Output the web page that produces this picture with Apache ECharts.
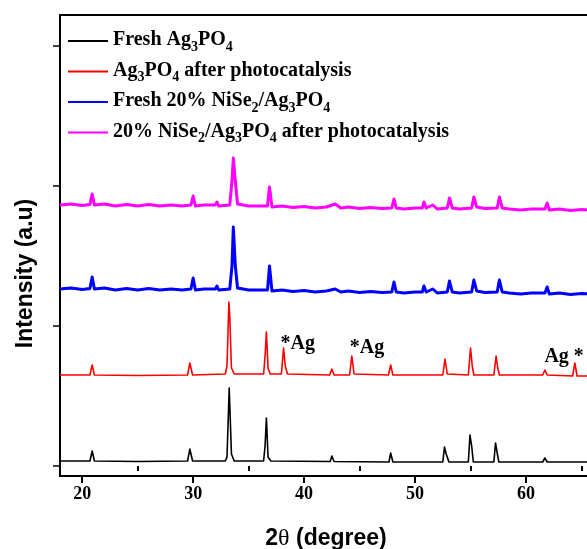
<!DOCTYPE html>
<html>
<head>
<meta charset="utf-8">
<script src="https://cdn.jsdelivr.net/npm/echarts@6/dist/echarts.min.js"></script>
<style>
  html, body { margin: 0; padding: 0; background: #fff; }
  #chart { width: 587px; height: 549px; }
</style>
</head>
<body>
<div id="chart"></div>
<script>
// ---- Data (2θ in degrees, intensity in arbitrary units; tick marks at 0,140,280,420) ----
const seriesNames = [
  'Fresh Ag3PO4',
  'Ag3PO4 after photocatalysis',
  'Fresh 20% NiSe2/Ag3PO4',
  '20% NiSe2/Ag3PO4 after photocatalysis'
];
const seriesColors = ['#000000', '#ff0000', '#0000ff', '#ff00ff'];

const xTickValues = [20, 30, 40, 50, 60, 70];
const xMinorTickValues = [25, 35, 45, 55, 65];
const yTickValues = [0, 140, 280, 420];

const freshAg3PO4 = [
  [18,5],[20.7,5],[20.9,15],[21.1,5],[25,4.5],[29.5,5],[29.7,17],[29.95,5],
  [32.9,5],[33.05,9],[33.12,33],[33.25,78],[33.32,76],[33.45,12],[33.7,5],
  [36.35,5],[36.48,20],[36.6,48],[36.75,9],[37,5],
  [42.35,4.5],[42.5,10],[42.7,4.5],[47.65,4],[47.8,13],[48.0,4],
  [52.5,4],[52.65,19],[52.8,12],[52.9,9],[53.05,4],
  [54.8,4],[54.95,31],[55.1,20],[55.25,4],
  [57.1,4],[57.25,23],[57.4,13],[57.55,4],
  [61.5,4],[61.7,8],[61.9,4],[70,4]
];

const usedAg3PO4 = [
  [18,91],[20.7,91],[20.9,101],[21.1,91],[25,90.5],[29.5,91],[29.7,103],[29.95,91],
  [32.9,92],[33.05,100],[33.12,126],[33.22,164],[33.3,150],[33.45,98],[33.7,92],
  [36.35,92],[36.48,110],[36.6,134],[36.75,98],[36.95,92],
  [37.95,92],[38.15,118],[38.3,100],[38.5,92],
  [42.3,91],[42.5,97],[42.7,91],[44.1,91],[44.3,110],[44.5,92],
  [47.6,91],[47.8,101],[48.0,91],[52.5,91],[52.7,107],[52.9,92],
  [54.8,91],[55.0,118],[55.15,100],[55.3,91],
  [57.1,91],[57.3,110],[57.45,98],[57.6,91],
  [61.5,91],[61.7,96],[61.9,91],[64.2,90],[64.4,103],[64.6,90],[70,90]
];

const freshNiSe2 = [
  [18,177],[19,178],[20,176.5],[20.7,177.5],[20.9,189],[21.1,177],[22,178],[23,176],
  [24,177.5],[25,176],[26,177.5],[27,176],[28,177],[29,176],[29.8,177],[30.0,188],
  [30.2,176],[31,177],[32.0,177],[32.15,180],[32.3,176],[33.3,177],[33.5,200],
  [33.62,239],[33.8,200],[34,178],[35,176],[36,176],[36.7,176],[36.88,200],[37.1,175],
  [38,176],[39,174.5],[40,175.5],[41,174],[42,175],[42.8,177],[43.3,174],[44,175],
  [45,173.5],[46,174.5],[47,173.5],[47.9,174],[48.1,184],[48.3,174],[49,173],[50,174],
  [50.65,174],[50.8,180],[51,174],[51.6,177],[52,173],[52.9,174],[53.1,185],[53.35,174],
  [54,173],[55.1,174],[55.3,186],[55.55,175],[56.3,173.5],[57.4,174],[57.6,186],
  [57.85,174],[58.5,173],[59.5,172],[60.5,173],[61.7,173],[61.9,179],[62.1,172],
  [63,173],[64,171.5],[65,172.5],[66,172],[70,172]
];

const usedNiSe2 = [
  [18,261],[19,262],[20,260.5],[20.7,261.5],[20.9,272],[21.1,261],[22,262],[23,260],
  [24,261.5],[25,260],[26,261.5],[27,260],[28,261],[29,260],[29.8,261],[30.0,270],
  [30.2,260],[31,261],[32.0,261],[32.15,264],[32.3,260],[33.3,261],[33.5,285],
  [33.62,308],[33.8,285],[34,262],[35,260],[36,260],[36.7,260],[36.88,279],[37.1,259],
  [38,260],[39,258.5],[40,259.5],[41,258],[42,259],[42.8,262],[43.3,258],[44,259],
  [45,257.5],[46,258.5],[47,257.5],[47.9,258],[48.1,267],[48.3,258],[49,257],[50,258],
  [50.65,258],[50.8,264],[51,258],[51.6,261],[52,257],[52.9,258],[53.1,268],[53.35,258],
  [54,257],[55.1,258],[55.3,269],[55.55,259],[56.3,257.5],[57.4,258],[57.6,269],
  [57.85,258],[58.5,257],[59.5,256],[60.5,257],[61.7,257],[61.9,263],[62.1,256],
  [63,257],[64,255.5],[65,256.5],[66,256],[70,256]
];

// Ag reflections marked on the red pattern: [2θ, peak intensity, label]
const agPeaks = [[38.15, 118, '*Ag'], [44.3, 110, '*Ag'], [64.4, 103, 'Ag *']];

// ---- Chart ----
const seriesData = [freshAg3PO4, usedAg3PO4, freshNiSe2, usedNiSe2];
const lineWidths = [1.6, 1.6, 3, 3];

function richName(name) {
  let s = '{m|' + name.replace(/([A-Za-z])(\d)/g, '$1}{s|$2}{m|') + '}';
  return s.replace(/\{m\|\}/g, '');
}

const chart = echarts.init(document.getElementById('chart'), null, { renderer: 'canvas' });

const series = seriesNames.map((n, i) => ({
  name: n,
  type: 'line',
  data: seriesData[i],
  showSymbol: false,
  symbol: 'none',
  smooth: false,
  lineStyle: { color: seriesColors[i], width: lineWidths[i], join: 'round' },
  itemStyle: { color: seriesColors[i] },
  emphasis: { disabled: true },
  z: 4 - i
}));

const labelLayouts = [
  { position: 'right', distance: 0, offset: [-3, -4] },
  { position: 'right', distance: 0, offset: [-2, -8] },
  { position: 'left', distance: 0, offset: [9, -6] }
];

series.push({
  name: 'Ag',
  type: 'scatter',
  symbolSize: 0,
  silent: true,
  itemStyle: { color: '#000', opacity: 1 },
  emphasis: { disabled: true },
  data: agPeaks.map((p, i) => ({
    value: [p[0], p[1]],
    label: Object.assign({
      show: true,
      formatter: p[2],
      fontFamily: 'Liberation Serif',
      fontWeight: 'bold',
      fontSize: 20,
      color: '#000000',
      opacity: 1,
      textBorderWidth: 0
    }, labelLayouts[i])
  })),
  z: 10
});

const option = {
  animation: false,
  backgroundColor: '#ffffff',
  grid: {
    left: 60, top: 15, width: 577, height: 461,
    outerBoundsMode: 'none',
    containLabel: false,
    show: true, borderColor: '#000', borderWidth: 2, backgroundColor: 'transparent'
  },
  legend: {
    data: seriesNames,
    orient: 'vertical',
    left: 68, top: 30,
    padding: 0,
    itemGap: 6.5,
    itemWidth: 40, itemHeight: 2,
    icon: 'rect',
    formatter: richName,
    textStyle: {
      color: '#000',
      fontFamily: 'Liberation Serif',
      fontWeight: 'bold',
      fontSize: 20,
      rich: {
        m: { fontFamily: 'Liberation Serif', fontWeight: 'bold', fontSize: 20, lineHeight: 22, verticalAlign: 'top', color: '#000' },
        s: { fontFamily: 'Liberation Serif', fontWeight: 'bold', fontSize: 14, lineHeight: 14, padding: [10, 0, 0, 0], verticalAlign: 'top', color: '#000' }
      }
    }
  },
  xAxis: [{
    type: 'value',
    min: 18, max: 70,
    name: '{a|2}{t|θ}{a| (degree)}',
    nameLocation: 'middle',
    nameGap: 51,
    nameTextStyle: {
      padding: [0, 45, 0, 0],
      rich: {
        a: { fontFamily: 'Liberation Sans', fontWeight: 'bold', fontSize: 23, color: '#000' },
        t: { fontFamily: 'Liberation Serif', fontWeight: 'normal', fontSize: 24, color: '#000' }
      }
    },
    axisLine: { show: true, onZero: false, lineStyle: { color: '#000', width: 2 } },
    axisTick: { show: true, inside: false, length: 7, customValues: xTickValues, lineStyle: { color: '#000', width: 2 } },
    axisLabel: {
      show: true, customValues: xTickValues, margin: 9,
      fontFamily: 'Liberation Serif', fontWeight: 'bold', fontSize: 18, color: '#000'
    },
    splitLine: { show: false }
  }, {
    type: 'value',
    min: 18, max: 70,
    position: 'bottom',
    axisLine: { show: false },
    axisTick: { show: true, inside: false, length: 5, customValues: xMinorTickValues, lineStyle: { color: '#000', width: 2 } },
    axisLabel: { show: false },
    splitLine: { show: false }
  }],
  yAxis: {
    type: 'value',
    min: -10, max: 451,
    name: 'Intensity (a.u)',
    nameLocation: 'middle',
    nameGap: 23,
    nameTextStyle: {
      fontFamily: 'Liberation Sans', fontWeight: 'bold', fontSize: 23, color: '#000',
      padding: [0, 56, 0, 0]
    },
    axisLine: { show: true, onZero: false, lineStyle: { color: '#000', width: 2 } },
    axisTick: { show: true, inside: false, length: 7, customValues: yTickValues, lineStyle: { color: '#000', width: 1.5 } },
    axisLabel: { show: false },
    splitLine: { show: false }
  },
  series: series
};

chart.setOption(option);
</script>
</body>
</html>
